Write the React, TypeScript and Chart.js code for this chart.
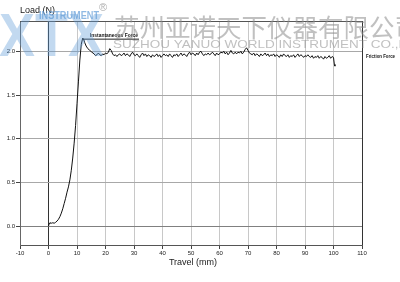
import React, { useEffect, useRef } from "react";
import { Chart, registerables } from "chart.js";
Chart.register(...registerables);

const travelRise = [0, 0.2, 0.5, 1.0, 1.5, 2.0, 2.5, 3.0, 3.5, 4.0, 4.5, 5.0, 5.5, 6.0, 6.5, 7.0, 7.5, 8.0, 8.5, 9.0, 9.5, 10.0, 10.5, 11.0, 11.5, 12.0, 12.3, 12.7, 13.2, 13.8, 14.5, 15.2];
const loadRise = [0.0, 0.03, 0.04, 0.035, 0.04, 0.035, 0.045, 0.06, 0.08, 0.11, 0.15, 0.2, 0.26, 0.32, 0.39, 0.45, 0.53, 0.64, 0.78, 0.95, 1.15, 1.4, 1.65, 1.9, 2.08, 2.15, 2.14, 2.1, 2.06, 2.03, 2.01, 1.99];

const travelPlateau = [
  16.0, 16.5, 17.0, 17.5, 18.0, 18.5, 19.0, 19.5, 20.0, 20.5,
  21.0, 21.5, 22.0, 22.5, 23.0, 23.5, 24.0, 24.5, 25.0, 25.5,
  26.0, 26.5, 27.0, 27.5, 28.0, 28.5, 29.0, 29.5, 30.0, 30.5,
  31.0, 31.5, 32.0, 32.5, 33.0, 33.5, 34.0, 34.5, 35.0, 35.5,
  36.0, 36.5, 37.0, 37.5, 38.0, 38.5, 39.0, 39.5, 40.0, 40.5,
  41.0, 41.5, 42.0, 42.5, 43.0, 43.5, 44.0, 44.5, 45.0, 45.5,
  46.0, 46.5, 47.0, 47.5, 48.0, 48.5, 49.0, 49.5, 50.0, 50.5,
  51.0, 51.5, 52.0, 52.5, 53.0, 53.5, 54.0, 54.5, 55.0, 55.5,
  56.0, 56.5, 57.0, 57.5, 58.0, 58.5, 59.0, 59.5, 60.0, 60.5,
  61.0, 61.5, 62.0, 62.5, 63.0, 63.5, 64.0, 64.5, 65.0, 65.5,
  66.0, 66.5, 67.0, 67.5, 68.0, 68.5, 69.0, 69.5, 70.0, 70.5,
  71.0, 71.5, 72.0, 72.5, 73.0, 73.5, 74.0, 74.5, 75.0, 75.5,
  76.0, 76.5, 77.0, 77.5, 78.0, 78.5, 79.0, 79.5, 80.0, 80.5,
  81.0, 81.5, 82.0, 82.5, 83.0, 83.5, 84.0, 84.5, 85.0, 85.5,
  86.0, 86.5, 87.0, 87.5, 88.0, 88.5, 89.0, 89.5, 90.0, 90.5,
  91.0, 91.5, 92.0, 92.5, 93.0, 93.5, 94.0, 94.5, 95.0, 95.5,
  96.0, 96.5, 97.0, 97.5, 98.0, 98.5, 99.0, 99.5, 100.0, 100.3, 100.5,
];
const loadPlateau = [
  1.97, 1.95, 1.96, 1.98, 1.96, 1.95, 1.97, 1.96, 1.98, 1.97,
  1.99, 2.03, 2.01, 1.97, 1.95, 1.96, 1.94, 1.96, 1.97, 1.95,
  1.96, 1.98, 1.95, 1.97, 1.96, 1.94, 1.97, 1.99, 1.96, 1.95,
  1.97, 1.95, 1.93, 1.96, 1.98, 1.95, 1.97, 1.94, 1.96, 1.95,
  1.93, 1.96, 1.94, 1.95, 1.97, 1.94, 1.96, 1.93, 1.95, 1.97,
  1.95, 1.96, 1.94, 1.97, 1.95, 1.93, 1.96, 1.95, 1.97, 1.94,
  1.96, 1.98, 1.95, 1.97, 1.96, 1.94, 1.97, 1.99, 1.96, 1.98,
  1.97, 1.95, 1.98, 1.96, 1.99, 2.0, 1.97, 1.95, 1.97, 1.96,
  1.98, 1.96, 1.97, 1.99, 1.97, 1.95, 1.98, 1.96, 1.97, 1.99,
  1.98, 2.0, 1.97, 1.99, 1.96, 1.98, 2.01, 1.98, 1.97, 1.99,
  1.97, 1.99, 1.98, 2.0, 1.97, 1.99, 2.02, 2.04, 2.01, 1.98,
  1.97, 1.96, 1.98, 1.95, 1.97, 1.96, 1.94, 1.97, 1.95, 1.96,
  1.98, 1.95, 1.97, 1.94, 1.96, 1.95, 1.97, 1.94, 1.96, 1.95,
  1.93, 1.96, 1.94, 1.97, 1.95, 1.94, 1.96, 1.93, 1.95, 1.94,
  1.96, 1.93, 1.95, 1.97, 1.94, 1.96, 1.95, 1.93, 1.95, 1.94,
  1.96, 1.94, 1.93, 1.95, 1.92, 1.94, 1.93, 1.95, 1.92, 1.94,
  1.93, 1.91, 1.94, 1.92, 1.93, 1.95, 1.92, 1.94, 1.93, 1.85, 1.83,
];

const xTicks = [-10, 0, 10, 20, 30, 40, 50, 60, 70, 80, 90, 100, 110];
const yTicks = [0, 0.5, 1.0, 1.5, 2.0];

const xTitle = "Travel (mm)";
const yTitle = "Load (N)";
const peakLabel = "Instantaneous Force";
const endLabel = "Friction Force";
const cnText = "苏州亚诺天下仪器有限公司";
const enText = "SUZHOU YANUO WORLD INSTRUMENT CO.,LTD";

function fitText(ctx: any, text: string, x: number, y: number, width: number) {
  const w = ctx.measureText(text).width;
  ctx.save();
  ctx.translate(x, y);
  ctx.scale(width / w, 1);
  ctx.fillText(text, 0, 0);
  ctx.restore();
}

const overlay = {
  id: "overlay",
  afterDraw(chart: any) {
    const ctx = chart.ctx;
    const ca = chart.chartArea;
    const xs = chart.scales.x;
    const ys = chart.scales.y;
    ctx.save();
    // top border
    ctx.strokeStyle = "#555";
    ctx.lineWidth = 1;
    ctx.beginPath();
    ctx.moveTo(ca.left, Math.round(ca.top) + 0.5);
    ctx.lineTo(ca.right, Math.round(ca.top) + 0.5);
    ctx.stroke();

    // peak annotation
    const px = xs.getPixelForValue(12.0);
    const py = ys.getPixelForValue(2.15);
    ctx.strokeStyle = "#222";
    ctx.beginPath();
    ctx.moveTo(px, py + 1);
    ctx.lineTo(139, py + 1);
    ctx.stroke();
    ctx.fillStyle = "#111";
    ctx.font = "bold 5.5px Arial, 'Liberation Sans', sans-serif";
    ctx.textBaseline = "alphabetic";
    ctx.textAlign = "left";
    fitText(ctx, peakLabel, 90, py - 1, 48);

    // end annotation
    fitText(ctx, endLabel, ca.right + 4, ys.getPixelForValue(1.95) + 2, 29);

    // titles
    ctx.fillStyle = "#222";
    ctx.font = "9px Arial, 'Liberation Sans', sans-serif";
    ctx.fillText(yTitle, 20, 13);
    ctx.textAlign = "center";
    ctx.fillText(xTitle, 193, 265);

    // watermark logo
    ctx.textAlign = "left";
    ctx.fillStyle = "rgba(95,155,215,0.38)";
    ctx.font = "bold 62px Arial, 'Liberation Sans', sans-serif";
    ctx.save();
    ctx.translate(-1, 56);
    ctx.scale(0.87, 1.0);
    ctx.fillText("XTX", 0, 0);
    ctx.restore();
    ctx.fillStyle = "rgba(95,155,215,0.7)";
    ctx.font = "bold 10px Arial, 'Liberation Sans', sans-serif";
    fitText(ctx, "INSTRUMENT", 39, 19, 60);
    ctx.fillStyle = "rgba(140,140,140,0.7)";
    ctx.font = "11px Arial, 'Liberation Sans', sans-serif";
    ctx.fillText("®", 99, 11);

    // chinese text
    ctx.fillStyle = "rgba(140,140,140,0.55)";
    ctx.font = "25.5px 'Noto Sans CJK SC', sans-serif";
    ctx.textBaseline = "middle";
    ctx.fillText(cnText, 114, 27);
    ctx.font = "11px Arial, 'Liberation Sans', sans-serif";
    fitText(ctx, enText, 113, 45, 310);
    ctx.restore();
  },
};

export default function App() {
  const ref = useRef<HTMLCanvasElement>(null);
  useEffect(() => {
    document.body.style.margin = "0";
    const data: { x: number; y: number }[] = [];
    travelRise.forEach((t, i) => data.push({ x: t, y: loadRise[i] }));
    travelPlateau.forEach((t, i) => data.push({ x: t, y: loadPlateau[i] }));
    const tickFont = { size: 6, family: "Arial, 'Liberation Sans', sans-serif" };
    const chart = new Chart(ref.current!, {
      type: "line",
      data: {
        datasets: [
          {
            data,
            borderColor: "#111",
            borderWidth: 1,
            pointRadius: 0,
            tension: 0,
            fill: false,
          },
        ],
      },
      options: {
        animation: false,
        responsive: false,
        maintainAspectRatio: false,
        layout: { padding: { top: 21, right: 38, left: 0, bottom: 0 } },
        plugins: { legend: { display: false }, tooltip: { enabled: false } },
        scales: {
          x: {
            type: "linear",
            min: -10,
            max: 110,
            afterBuildTicks: (s: any) => {
              s.ticks = xTicks.map((v) => ({ value: v }));
            },
            afterFit: (s: any) => {
              s.height = 37;
            },
            grid: {
              color: (c: any) => {
                const v = c.tick && c.tick.value;
                if (v === 0 || v === 110) return "#333";
                if (v === -10) return "#666";
                return "#c8c8c8";
              },
              tickLength: 4,
              tickColor: "#444",
            },
            border: { display: true, color: "#555" },
            ticks: {
              font: tickFont,
              color: "#222",
              padding: 1,
              maxRotation: 0,
              autoSkip: false,
              callback: (v: any) => String(v),
            },
          },
          y: {
            type: "linear",
            min: -0.214,
            max: 2.346,
            afterBuildTicks: (s: any) => {
              s.ticks = yTicks.map((v) => ({ value: v }));
            },
            afterFit: (s: any) => {
              s.width = 20;
            },
            grid: {
              color: (c: any) => {
                const v = c.tick && c.tick.value;
                if (v === 0) return "#808080";
                return "#a8a8a8";
              },
              tickLength: 4,
              tickColor: "#444",
            },
            border: { display: true, color: "#666" },
            ticks: {
              font: tickFont,
              color: "#222",
              padding: 1,
              autoSkip: false,
              callback: (v: any) => Number(v).toFixed(1),
            },
          },
        },
      },
      plugins: [overlay],
    });
    return () => chart.destroy();
  }, []);
  return (
    <div style={{ width: 400, height: 282, background: "#fff" }}>
      <canvas ref={ref} width={400} height={282} style={{ display: "block" }} />
    </div>
  );
}
